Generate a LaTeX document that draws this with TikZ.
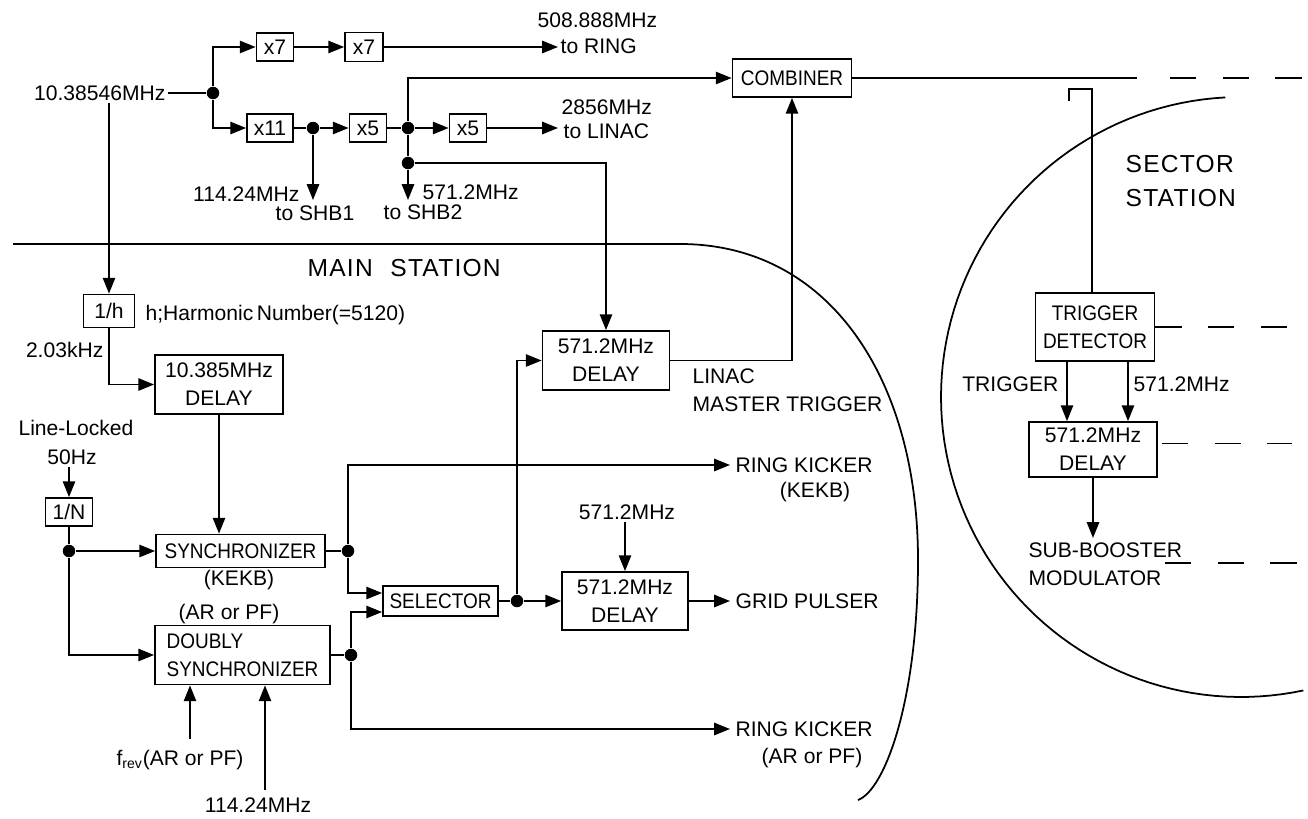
\documentclass[tikz,border=0pt]{standalone}
\usepackage{fontspec}
\setmainfont{Liberation Sans}
\newfontfamily\boxfont{Liberation Sans}[FakeStretch=0.9]
\newfontfamily\titlefont{Liberation Sans}[LetterSpace=5]
\usetikzlibrary{arrows.meta,positioning,calc}

\begin{document}
\begin{tikzpicture}[
    x=0.02cm, y=-0.02cm,
    font=\fontsize{12}{16}\selectfont,
    line width=1pt,
    box/.style={rectangle, draw, align=center, inner sep=1pt},
    narrow/.style={font=\boxfont\fontsize{12}{16}\selectfont},
    dot/.style={circle, fill, inner sep=0pt, minimum size=0.25cm},
    lbl/.style={inner sep=1pt},
    title/.style={inner sep=1pt, font=\titlefont\fontsize{14}{19}\selectfont},
    arrow/.style={-{Triangle[length=9pt,width=7pt]}},
    far/.style={dash pattern=on 15pt off 15pt}
]
    \useasboundingbox (0,0) rectangle (1308,818);

    % frequency chain
    \node[lbl, anchor=east] (src) at (168,93) {10.38546MHz};
    \node[dot] (d1) at (213,93) {};
    \node[box, minimum width=0.74cm, minimum height=0.56cm] (x7a) at (275,47) {x7};
    \node[box, minimum width=0.76cm, minimum height=0.58cm] (x7b) at (364,47) {x7};
    \coordinate (ringout) at (558,47);
    \node[lbl, anchor=west] (ringf) at (535,20) {508.888MHz};
    \node[lbl, anchor=west] (ringto) at (558,46) {to RING};

    \node[box, minimum width=0.92cm, minimum height=0.56cm] (x11) at (270,128) {x11};
    \node[dot] (d2) at (313,128) {};
    \node[box, minimum width=0.74cm, minimum height=0.56cm] (x5a) at (368,128) {x5};
    \node[dot] (d3) at (408,128) {};
    \node[box, minimum width=0.74cm, minimum height=0.56cm] (x5b) at (468,128) {x5};
    \coordinate (linacout) at (558,128);
    \node[lbl, anchor=west] (linacf) at (559,107) {2856MHz};
    \node[lbl, anchor=west] (linacto) at (561,131) {to LINAC};

    \coordinate (shb1) at (313,200);
    \node[lbl, anchor=east] (shb1f) at (302,194) {114.24MHz};
    \node[lbl] (shb1to) at (315,213) {to SHB1};
    \node[dot] (d4) at (408,163) {};
    \coordinate (shb2) at (408,200);
    \node[lbl, anchor=west] (shb2f) at (420,192) {571.2MHz};
    \node[lbl] (shb2to) at (423,212) {to SHB2};

    \node[box, narrow, minimum width=2.38cm, minimum height=0.76cm] (comb) at (792,78) {COMBINER};
    \coordinate (combend) at (1137,78);
    \coordinate (dashA) at (1170,78);
    \coordinate (dashB) at (1305,78);

    % main station
    \draw (13,244) -- (680,244) .. controls (830,244) and (918,380) .. (918,560)
        .. controls (918,700) and (885,790) .. (858,800);
    \node[title, anchor=west] (ms) at (305,268) {MAIN\hspace{10pt}STATION};

    \node[box, minimum width=1.02cm, minimum height=0.66cm] (oneh) at (109,311) {1/h};
    \node[lbl, anchor=west] (harm) at (143,315) {h;Harmonic\,Number(=5120)};
    \node[lbl, anchor=east] (khz) at (106,350) {2.03kHz};
    \node[box, minimum width=2.56cm, minimum height=1.18cm] (dly1) at (219,384.5) {10.385MHz\\DELAY};
    \node[lbl] (ll) at (76,428) {Line-Locked};
    \node[lbl] (fifty) at (72,457) {50Hz};
    \node[box, minimum width=0.94cm, minimum height=0.56cm] (oneN) at (69,512) {1/N};
    \node[dot] (d5) at (69,551) {};
    \node[box, narrow, minimum width=3.38cm, minimum height=0.66cm] (sync) at (240.5,551) {SYNCHRONIZER};
    \node[lbl] (kekb) at (239,580) {(KEKB)};
    \node[lbl] (arpf) at (229,614) {(AR or PF)};
    \node[box, narrow, align=left, minimum width=3.5cm, minimum height=1.18cm] (dsync) at (242.5,655) {DOUBLY\\SYNCHRONIZER};
    \node[lbl, anchor=base] (frev) at (180,765) {f\textsubscript{rev}(AR or PF)};
    \node[lbl] (f114) at (258,805) {114.24MHz};
    \coordinate (frevin) at (190,739);
    \coordinate (rfin) at (265,790);
    \node[dot] (d6) at (348,551) {};
    \node[dot] (d7) at (351,655) {};
    \node[box, narrow, minimum width=2.3cm, minimum height=0.6cm] (sel) at (440.5,601) {SELECTOR};
    \coordinate (selA) at ($(sel.west)+(0,-8)$);
    \coordinate (selB) at ($(sel.west)+(0,11)$);
    \node[dot] (d8) at (517,601) {};

    \node[box, minimum width=2.54cm, minimum height=1.18cm] (dly2) at (606,360.5) {571.2MHz\\DELAY};
    \node[lbl, anchor=west, align=left] (lmt) at (690,390) {LINAC\\MASTER TRIGGER};
    \node[lbl] (dly3f) at (627,512) {571.2MHz};
    \node[box, minimum width=2.52cm, minimum height=1.16cm] (dly3) at (625,601) {571.2MHz\\DELAY};

    \coordinate (rkkin) at (730,465);
    \node[lbl, anchor=west] (rkk) at (733,465) {RING KICKER};
    \node[lbl] (rkkb) at (815,492) {(KEKB)};
    \coordinate (gridin) at (730,601);
    \node[lbl, anchor=west] (grid) at (733,601) {GRID PULSER};
    \coordinate (rkain) at (730,729);
    \node[lbl, anchor=west] (rka) at (733,729) {RING KICKER};
    \node[lbl] (rkab) at (812,758) {(AR or PF)};

    % sector station
    \draw plot[domain=93:282, samples=90] ({1241+300*cos(\x)}, {397-300*sin(\x)});
    \node[title, anchor=west, align=left] (ss) at (1123,181) {SECTOR\\STATION};
    \coordinate (hookA) at (1069,101);
    \coordinate (hookB) at (1092,89);
    \node[box, narrow, minimum width=2.38cm, minimum height=1.36cm] (trig) at (1095,327) {TRIGGER\\DETECTOR};
    \node[box, minimum width=2.56cm, minimum height=1.1cm] (dly4) at (1093,449.5) {571.2MHz\\DELAY};
    \coordinate (tA) at ($(trig.south)+(-28,0)$);
    \coordinate (tB) at ($(trig.south)+(33,0)$);
    \node[lbl, anchor=east] (trigl) at (1061,384) {TRIGGER};
    \node[lbl, anchor=west] (trigf) at (1131,384) {571.2MHz};
    \coordinate (sbtip) at (1093,538);
    \node[lbl, anchor=west, align=left] (sbm) at (1026,564) {SUB-BOOSTER\\MODULATOR};
    \coordinate (sbdash) at (1165,563);

    % connections
    \draw (src) -- (d1);
    \draw[arrow] (d1) |- (x7a);
    \draw[arrow] (x7a) -- (x7b);
    \draw[arrow] (x7b) -- (ringout);
    \draw[arrow] (d1) |- (x11);
    \draw (x11) -- (d2);
    \draw[arrow] (d2) -- (x5a);
    \draw (x5a) -- (d3);
    \draw[arrow] (d3) -- (x5b);
    \draw[arrow] (x5b) -- (linacout);
    \draw[arrow] (d2) -- (shb1);
    \draw[arrow] (d3) |- (comb);
    \draw (d3) -- (d4);
    \draw[arrow] (d4) -- (shb2);
    \draw[arrow] (d4) -| (dly2);
    \draw[arrow] (dly2) -| (comb);
    \draw (comb) -- (combend);
    \draw[far] (dashA) -- (dashB);

    \draw[arrow] (src.south -| oneh) -- (oneh);
    \draw[arrow] (oneh) |- (dly1);
    \draw[arrow] (dly1) -- (dly1 |- sync.north);
    \draw[arrow] (fifty.south -| oneN) -- (oneN);
    \draw (oneN) -- (d5);
    \draw[arrow] (d5) -- (sync);
    \draw[arrow] (d5) |- (dsync);
    \draw[arrow] (frevin) -- (frevin |- dsync.south);
    \draw[arrow] (rfin) -- (rfin |- dsync.south);
    \draw (sync) -- (d6);
    \draw (dsync) -- (d7);
    \draw[arrow] (d6) |- (rkkin);
    \draw[arrow] (d6) |- (selA);
    \draw[arrow] (d7) |- (selB);
    \draw[arrow] (d7) |- (rkain);
    \draw (sel) -- (d8);
    \draw[arrow] (d8) -- (dly3);
    \draw[arrow] (d8) |- (dly2);
    \draw[arrow] (dly3) -- (gridin);
    \draw[arrow] (dly3f.south -| dly3) -- (dly3);

    \draw (hookA) |- (hookB) -- (hookB |- trig.north);
    \draw[arrow] (tA) -- (tA |- dly4.north);
    \draw[arrow] (tB) -- (tB |- dly4.north);
    \draw[arrow] (dly4) -- (sbtip);
    \draw[far] (trig.east) -- ++(135,0);
    \draw[far] ($(dly4.east)+(4,-6)$) -- ++(130,0);
    \draw[far] (sbdash) -- ++(132,0);
\end{tikzpicture}
\end{document}
